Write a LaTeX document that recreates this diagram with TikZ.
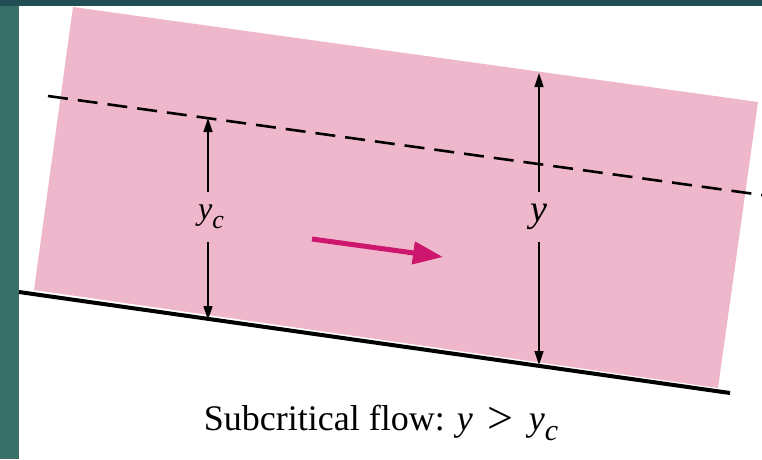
\documentclass[tikz,border=0pt]{standalone}
\usepackage{fontspec}
\setmainfont{Liberation Serif}
\usetikzlibrary{arrows.meta}
\definecolor{tealL}{RGB}{58,112,106}
\definecolor{tealT}{RGB}{32,78,84}
\definecolor{waterpink}{RGB}{239,183,204}
\definecolor{flowmag}{RGB}{205,22,110}
\newcommand{\subc}[1]{\raisebox{-0.28em}{\fontsize{#1}{#1}\selectfont\textit{c}}}
\tikzset{
  dimarrow/.style={line width=1.3pt,-{Triangle[length=14pt,width=9pt]}},
  bedline/.style={line width=4pt},
  critline/.style={line width=2.6pt,dash pattern=on 20pt off 10pt},
  flowarrow/.style={line width=5pt,flowmag,-{Triangle[length=30pt,width=22pt]}},
  dimlabel/.style={inner sep=0pt,minimum height=50pt,font=\fontsize{38}{40}\selectfont}
}
\begin{document}
\begin{tikzpicture}[x=1pt,y=-1pt]
\useasboundingbox (0,0) rectangle (762,459);
\fill[white] (0,0) rectangle (762,459);
% water body
\fill[waterpink] (73,7) -- (758,102) -- (718,388) -- (34,290) -- cycle;
% borders
\fill[tealL] (0,0) rectangle (19,459);
\fill[tealT] (0,0) rectangle (762,6);
% bed
\coordinate (bedL) at (19,292);
\coordinate (bedR) at (730,393);
\draw[bedline] (bedL) -- (bedR);
% critical depth line
\coordinate (critL) at (48,96);
\coordinate (critR) at (762,195);
\draw[critline] (critL) -- (critR);
% yc dimension
\coordinate (ycTop) at (208,118);
\coordinate (ycBot) at (208,320);
\node[dimlabel] (ycl) at (211,217) {\fontsize{32}{34}\selectfont\textit{y}\subc{26}};
\draw[dimarrow] ([xshift=-3pt]ycl.north) -- (ycTop);
\draw[dimarrow] ([xshift=-3pt]ycl.south) -- (ycBot);
% y dimension
\coordinate (yTop) at (539,73);
\coordinate (yBot) at (539,365);
\node[dimlabel] (yl) at (539,217) {\textit{y}};
\draw[dimarrow] (yl.north) -- (yTop);
\draw[dimarrow] (yl.south) -- (yBot);
% flow arrow
\coordinate (flowS) at (312,239);
\coordinate (flowE) at (443,257);
\draw[flowarrow] (flowS) -- (flowE);
% caption
\node[anchor=base,inner sep=0pt,font=\fontsize{36}{40}\selectfont] (cap) at (381,430)
  {Subcritical flow: \textit{y}\hspace{15pt}\raisebox{-3pt}{\fontsize{46}{46}\selectfont >}\hspace{15pt}\textit{y}\subc{30}};
\end{tikzpicture}
\end{document}
